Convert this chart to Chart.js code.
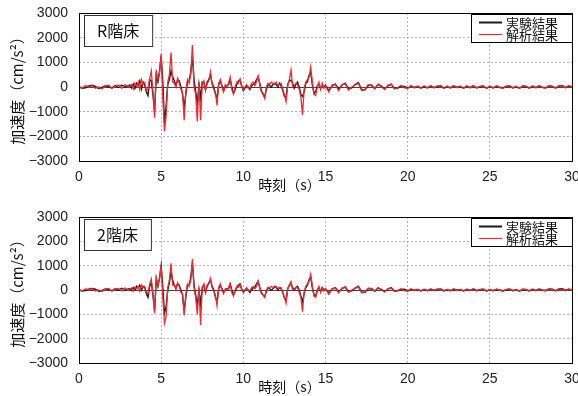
<!DOCTYPE html>
<html>
<head>
<meta charset="utf-8">
<script src="https://cdn.jsdelivr.net/npm/chart.js@4/dist/chart.umd.min.js"></script>
<style>
  body { margin: 0; background: #fff; }
  canvas { display: block; }
</style>
</head>
<body>
<canvas id="chart-r" width="578" height="198"></canvas>
<canvas id="chart-2" width="578" height="198"></canvas>
<script>
//////////////// DATA
// time (s): 0-3 every 0.2, 3.1-15 every 0.1, 15.2-30 every 0.2
const times = [
  0, 0.2, 0.4, 0.6, 0.8, 1.0, 1.2, 1.4, 1.6, 1.8,
  2.0, 2.2, 2.4, 2.6, 2.8, 3.0,
  3.1, 3.2, 3.3, 3.4, 3.5, 3.6, 3.7, 3.8, 3.9, 4.0,
  4.1, 4.2, 4.3, 4.4, 4.5, 4.6, 4.7, 4.8, 4.9, 5.0,
  5.1, 5.2, 5.3, 5.4, 5.5, 5.6, 5.7, 5.8, 5.9, 6.0,
  6.1, 6.2, 6.3, 6.4, 6.5, 6.6, 6.7, 6.8, 6.9, 7.0,
  7.1, 7.2, 7.3, 7.4, 7.5, 7.6, 7.7, 7.8, 7.9, 8.0,
  8.1, 8.2, 8.3, 8.4, 8.5, 8.6, 8.7, 8.8, 8.9, 9.0,
  9.1, 9.2, 9.3, 9.4, 9.5, 9.6, 9.7, 9.8, 9.9, 10.0,
  10.1, 10.2, 10.3, 10.4, 10.5, 10.6, 10.7, 10.8, 10.9, 11.0,
  11.1, 11.2, 11.3, 11.4, 11.5, 11.6, 11.7, 11.8, 11.9, 12.0,
  12.1, 12.2, 12.3, 12.4, 12.5, 12.6, 12.7, 12.8, 12.9, 13.0,
  13.1, 13.2, 13.3, 13.4, 13.5, 13.6, 13.7, 13.8, 13.9, 14.0,
  14.1, 14.2, 14.3, 14.4, 14.5, 14.6, 14.7, 14.8, 14.9, 15.0,
  15.2, 15.4, 15.6, 15.8, 16.0, 16.2, 16.4, 16.6, 16.8, 17.0,
  17.2, 17.4, 17.6, 17.8, 18.0, 18.2, 18.4, 18.6, 18.8, 19.0,
  19.2, 19.4, 19.6, 19.8, 20.0, 20.2, 20.4, 20.6, 20.8, 21.0,
  21.2, 21.4, 21.6, 21.8, 22.0, 22.2, 22.4, 22.6, 22.8, 23.0,
  23.2, 23.4, 23.6, 23.8, 24.0, 24.2, 24.4, 24.6, 24.8, 25.0,
  25.2, 25.4, 25.6, 25.8, 26.0, 26.2, 26.4, 26.6, 26.8, 27.0,
  27.2, 27.4, 27.6, 27.8, 28.0, 28.2, 28.4, 28.6, 28.8, 29.0,
  29.2, 29.4, 29.6, 29.8, 30.0
];

// R階床 - 実験結果 (cm/s2)
const roofTest = [
  0, -50, -30, 40, 70, 20, -60, -20, 50, 10,
  -40, 60, -20, 80, -10, 50,
  80, -40, 120, -60, 150, 60, 250, -80, 200, 80,
  -200, -350, 300, 250, -300, -1000, 450, 200, 650, 1250,
  200, -1450, -800, 100, 300, 650, 400, 250, 50, 300,
  250, 0, -300, -800, -300, 200, 250, 600, 1250, 300,
  -200, -650, 100, -450, 200, 150, -100, 200, 300, 500,
  150, 0, -300, -450, 100, 250, 50, -150, 0, 50,
  100, 300, 0, -250, -100, 100, 250, 280, 50, -150,
  -50, 50, 0, -100, 50, 100, 150, 300, 400, 150,
  -150, -300, -420, -100, 100, 50, 0, 100, 150, 100,
  0, 150, 50, -150, -380, -420, 100, 250, 280, 150,
  -50, 100, 200, 0, -300, -380, -200, 150, 200, 480,
  580, 100, -250, -200, 50, 100, -50, 100, -20, 80,
  -150, 50, 120, -100, 80, 150, -80, -40, 100, 180,
  -100, -120, 60, 80, -60, 100, 40, -80, 50, 120,
  -60, -40, 30, 20, -50, 40, -20, 30, -40, 20,
  -30, 40, -20, 10, 50, -40, 20, -30, 40, -10,
  20, -40, 30, -20, 50, -30, 10, 40, -50, 20,
  -30, 30, -10, -40, 20, 40, -30, 10, -50, 30,
  20, -40, 30, -20, 40, -10, -30, 50, 20, -40,
  30, 60, -20, 40, 10
];

// R階床 - 解析結果
const roofCalc = [
  20, -40, 60, 10, 50, -50, 0, -80, 40, 70,
  -60, 30, 80, -50, 100, 0,
  40, 100, -80, 150, 20, 200, -100, 300, 100, 180,
  -150, -100, 350, 650, -200, -1250, 700, 300, 500, 1350,
  -400, -1800, -1200, 200, 500, 1400, 200, 150, 0, 350,
  150, -100, -200, -1350, -200, 300, 150, 500, 1700, 0,
  -300, -1400, 200, -1350, 100, 250, -150, 150, 250, 620,
  100, -100, -200, -750, 150, 300, 0, -200, 100, 0,
  150, 400, -100, -300, 0, 200, 150, 330, 0, -100,
  0, 100, -50, -50, 150, 200, 50, 200, 450, 100,
  -200, -250, -460, 0, 150, 100, 200, 150, 100, 200,
  50, 100, 150, -100, -300, -600, 50, 300, 690, 0,
  50, 150, 100, -100, -400, -1130, -100, 200, 300, 400,
  820, 200, -300, -350, 0, 200, -100, 150, -50, 50,
  -200, 80, 100, -150, 100, 120, -120, 0, 80, 150,
  -150, -100, 100, 50, -80, 120, 0, -100, 80, 100,
  -80, -20, 60, -40, -60, 60, -40, 40, -60, 50,
  -50, 60, -40, 50, 30, -60, 40, -50, 60, -30,
  40, -60, 50, -40, 60, -50, 30, 50, -60, 40,
  -50, 50, -30, -60, 40, 50, -50, 30, -60, 50,
  40, -60, 50, -40, 60, -30, -50, 60, 30, -50,
  50, 40, -40, 50, -20
];

// 2階床 - 実験結果
const floor2Test = [
  0, -40, -20, 30, 60, 30, -50, -30, 40, 20,
  -30, 50, -10, 70, -20, 40,
  50, -20, 100, 0, 150, 80, 200, 0, 150, 100,
  -150, -300, 150, 300, -200, -850, 450, 150, 500, 1000,
  100, -950, -700, 0, 300, 750, 400, 200, 100, 250,
  200, 0, -200, -850, -300, 200, 200, 500, 1100, 200,
  -200, -650, 0, -600, 100, 200, -100, 150, 300, 420,
  150, 0, -300, -480, 50, 200, 50, -100, 0, 50,
  50, 250, 0, -200, -50, 100, 200, 250, 50, -100,
  0, 50, 0, -100, 0, 100, 100, 250, 350, 100,
  -100, -200, -280, -50, 100, 50, 0, 50, 150, 100,
  0, 100, 50, -100, -330, -430, 50, 200, 250, 100,
  0, 100, 150, 0, -250, -480, -150, 100, 200, 430,
  520, 100, -200, -250, 0, 100, -50, 100, 0, 50,
  -120, 40, 100, -80, 60, 130, -60, -30, 80, 160,
  -80, -100, 50, 60, -50, 80, 30, -60, 40, 100,
  -50, -30, 20, 30, -40, 30, -10, 20, -30, 10,
  -20, 30, -10, 20, 40, -30, 10, -20, 30, 0,
  10, -30, 20, -10, 40, -20, 10, 30, -40, 10,
  -20, 20, 0, -30, 10, 30, -20, 10, -40, 20,
  10, -30, 20, -10, 30, 0, -20, 40, 30, -30,
  40, 50, -10, 30, 0
];

// 2階床 - 解析結果
const floor2Calc = [
  10, -30, 40, 20, 50, -40, 0, -60, 30, 60,
  -50, 30, 60, -40, 80, 0,
  30, 80, -50, 120, 50, 150, -50, 200, 100, 150,
  -100, -150, 250, 450, -150, -950, 500, 200, 450, 1000,
  -300, -1370, -1100, 100, 400, 1100, 200, 200, 0, 300,
  150, -100, -150, -1030, -200, 250, 150, 400, 1275, 100,
  -300, -1000, 100, -1440, 100, 250, -100, 200, 250, 480,
  100, -50, -200, -650, 100, 250, 0, -150, 50, 0,
  100, 250, -100, -250, 0, 150, 100, 220, 0, -100,
  0, 100, -50, -50, 100, 150, 50, 150, 370, 80,
  -150, -200, -300, 0, 100, 100, 150, 100, 100, 150,
  50, 100, 100, -100, -300, -550, 50, 200, 350, 0,
  50, 100, 100, -100, -300, -890, -100, 150, 250, 350,
  650, 150, -250, -300, 0, 150, -100, 100, -50, 50,
  -180, 60, 80, -120, 80, 110, -100, 0, 60, 140,
  -120, -80, 80, 40, -60, 100, 0, -80, 60, 80,
  -60, -20, 50, -30, -50, 50, -30, 30, -50, 40,
  -40, 50, -30, 40, 20, -50, 30, -40, 50, -20,
  30, -50, 40, -30, 50, -40, 20, 40, -50, 30,
  -40, 40, -20, -50, 30, 40, -40, 20, -50, 40,
  30, -50, 40, -30, 50, -20, -40, 50, 20, -40,
  40, 30, -30, 40, -10
];

const seriesNames = ['実験結果', '解析結果'];
const seriesColors = ['#1a1a1a', '#f02a32'];
const xTicks = { min: 0, max: 30, step: 5 };
const yTicks = { min: -3000, max: 3000, step: 1000 };

//////////////// HELPERS
const FONT = "'Liberation Sans', 'Noto Sans CJK JP', sans-serif";
const JP = "'Noto Sans CJK JP', 'Liberation Sans', sans-serif";

function toPoints(values) {
  return times.map((t, i) => ({ x: t, y: values[i] }));
}

// zero line, frame, panel label, legend, x title
const panelPlugin = {
  id: 'panel',
  beforeDatasetsDraw(chart) {
    const { ctx, chartArea: a, scales: { y } } = chart;
    const y0 = Math.round(y.getPixelForValue(0)) + 0.5;
    ctx.save();
    ctx.strokeStyle = '#444';
    ctx.lineWidth = 1;
    ctx.beginPath();
    ctx.moveTo(a.left, y0);
    ctx.lineTo(a.right, y0);
    ctx.stroke();
    ctx.restore();
  },
  afterDraw(chart, args, opts) {
    const { ctx, chartArea: a } = chart;
    ctx.save();
    // plot frame
    ctx.strokeStyle = '#000';
    ctx.lineWidth = 1;
    ctx.strokeRect(Math.round(a.left) + 0.5, Math.round(a.top) + 0.5,
      Math.round(a.width), Math.round(a.height));

    // panel label
    ctx.font = '16px ' + JP;
    const lw = ctx.measureText(opts.label).width + 26;
    ctx.fillStyle = '#fff';
    ctx.fillRect(a.left + 5, a.top + 2, lw, 31);
    ctx.strokeStyle = '#333';
    ctx.strokeRect(a.left + 5.5, a.top + 2.5, lw, 31);
    ctx.fillStyle = '#111';
    ctx.textBaseline = 'middle';
    ctx.fillText(opts.label, a.left + 18, a.top + 18);

    // legend
    const bx = Math.round(a.right) - 101, by = Math.round(a.top) + 1;
    ctx.fillStyle = '#fff';
    ctx.fillRect(bx, by, 102, 29);
    ctx.strokeStyle = '#000';
    ctx.strokeRect(bx + 0.5, by + 0.5, 101, 28);
    ctx.font = '13px ' + JP;
    seriesNames.forEach((name, i) => {
      const ly = by + 8 + i * 12;
      ctx.strokeStyle = seriesColors[i];
      ctx.lineWidth = i === 0 ? 2 : 1.2;
      ctx.beginPath();
      ctx.moveTo(bx + 8, ly + 0.5);
      ctx.lineTo(bx + 31, ly + 0.5);
      ctx.stroke();
      ctx.fillStyle = '#111';
      ctx.fillText(name, bx + 35, ly + 1);
    });

    // x axis title
    ctx.font = '14px ' + JP;
    ctx.fillStyle = '#111';
    ctx.textAlign = 'center';
    ctx.fillText('時刻（s）', a.left + a.width * 0.427, a.bottom + 24);
    ctx.restore();
  }
};

function makeChart(canvasId, label, test, calc, top, bottom) {
  const canvas = document.getElementById(canvasId);
  return new Chart(canvas.getContext('2d'), {
    type: 'line',
    data: {
      datasets: [
        {
          label: seriesNames[0],
          data: toPoints(test),
          borderColor: seriesColors[0],
          borderWidth: 1.4,
          pointRadius: 0,
          tension: 0,
          order: 1,
        },
        {
          label: seriesNames[1],
          data: toPoints(calc),
          borderColor: seriesColors[1],
          borderWidth: 1.3,
          pointRadius: 0,
          tension: 0,
          order: 0,
        },
      ],
    },
    options: {
      responsive: false,
      animation: false,
      parsing: false,
      layout: { padding: { top: top, right: 6, left: 0, bottom: 0 } },
      plugins: {
        legend: { display: false },
        tooltip: { enabled: false },
        panel: { label: label },
      },
      scales: {
        x: {
          type: 'linear',
          min: xTicks.min,
          max: xTicks.max,
          ticks: {
            stepSize: xTicks.step,
            color: '#222',
            font: { family: FONT, size: 14 },
            padding: 8,
            maxRotation: 0,
          },
          grid: { color: '#b4b4b4', drawTicks: false },
          border: { display: false, dash: [2, 2] },
          afterFit: (scale) => {
            scale.height = bottom;
            scale.paddingLeft = 0;
            scale.paddingRight = 0;
          },
        },
        y: {
          min: yTicks.min,
          max: yTicks.max,
          ticks: {
            stepSize: yTicks.step,
            color: '#222',
            font: { family: FONT, size: 14 },
            padding: 11,
            callback: (v) => (v < 0 ? '−' + Math.abs(v) : v),
          },
          grid: { color: '#b4b4b4', drawTicks: false },
          border: { display: false, dash: [2, 2] },
          title: {
            display: true,
            text: '加速度（cm/s²）',
            color: '#111',
            font: { family: JP, size: 15 },
            padding: { top: 8, bottom: 0 },
          },
          afterFit: (scale) => {
            scale.width = 79;
            scale.paddingTop = 0;
            scale.paddingBottom = 0;
          },
        },
      },
    },
    plugins: [panelPlugin],
  });
}

makeChart('chart-r', 'R階床', roofTest, roofCalc, 13, 37);
makeChart('chart-2', '2階床', floor2Test, floor2Calc, 19, 33);
</script>
</body>
</html>
